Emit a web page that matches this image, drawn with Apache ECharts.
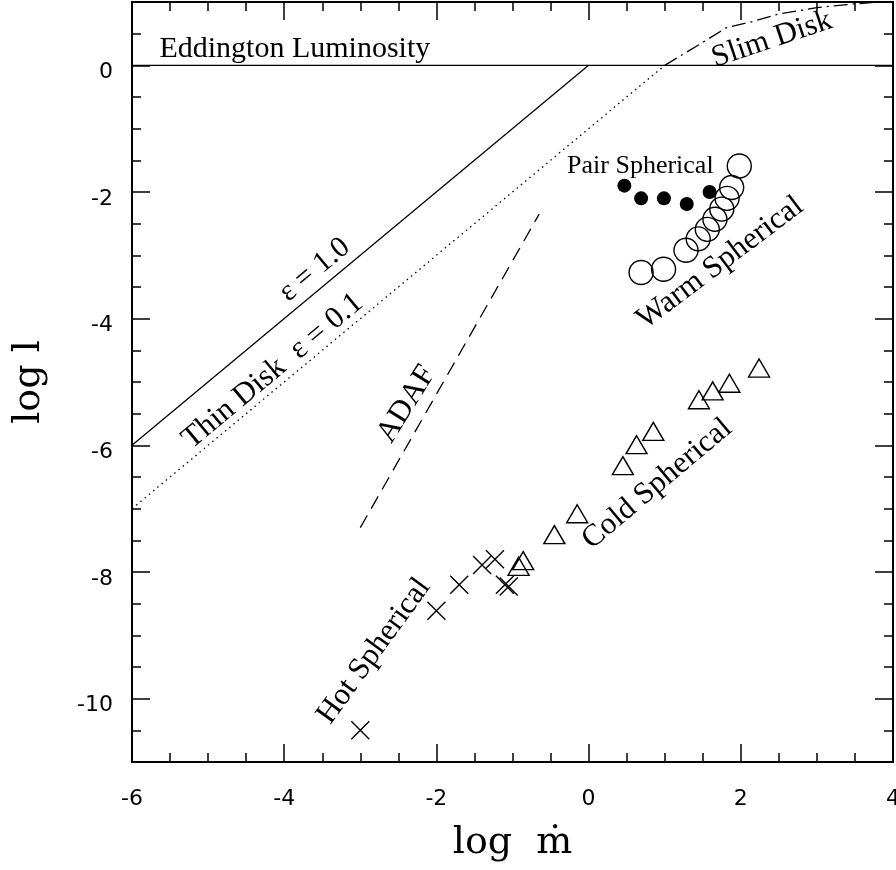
<!DOCTYPE html>
<html>
<head>
<meta charset="utf-8">
<script src="https://cdn.jsdelivr.net/npm/echarts@6/dist/echarts.min.js"></script>
<style>
  html, body { margin: 0; padding: 0; background: #fff; }
  #chart { width: 896px; height: 870px; }
</style>
</head>
<body>
<div id="chart"></div>
<script>
// accretion regimes: log l vs log mdot

const eddingtonLine = [[-6, 0], [4, 0]];
const thinDiskEps10 = [[-6, -6], [0, 0]];
const thinDiskEps01 = [[-6, -7], [1, 0]];
const slimDisk = [[1.0, 0.0], [1.47, 0.34], [1.82, 0.6], [2.12, 0.68], [2.5, 0.81], [3.0, 0.91], [3.4, 0.96], [4.0, 1.02]];
const adafLine = [[-3.0, -7.3], [-0.65, -2.35]];

const pairSpherical = [[0.47, -1.90], [0.69, -2.10], [0.99, -2.10], [1.29, -2.19], [1.59, -2.00]];
const warmSpherical = [[0.69, -3.27], [0.985, -3.22], [1.28, -2.92], [1.44, -2.74], [1.56, -2.59],
                       [1.66, -2.43], [1.75, -2.27], [1.82, -2.10], [1.88, -1.93], [1.98, -1.59]];
const coldSpherical = [[-0.92, -7.91], [-0.86, -7.82], [-0.45, -7.41], [-0.15, -7.08], [0.45, -6.32],
                       [0.63, -5.99], [0.85, -5.78], [1.45, -5.28], [1.63, -5.14], [1.85, -5.02], [2.24, -4.78]];
const hotSpherical = [[-3.0, -10.5], [-2.0, -8.61], [-1.70, -8.20], [-1.40, -7.89], [-1.23, -7.80],
                      [-1.10, -8.20], [-1.05, -8.23]];

const yMajorTicks = [-10, -8, -6, -4, -2, 0];

// annotation text and anchor (data coords)
const annotationText = ['Eddington Luminosity', 'Slim Disk', 'Pair Spherical', 'Warm Spherical',
                        'Cold Spherical', 'Hot Spherical', 'ADAF', 'Thin Disk  ε = 0.1', 'ε = 1.0'];
const annotationX = [-3.86, 2.41, 0.68, 1.73, 0.90, -2.82, -2.39, -4.15, -3.60];
const annotationY = [0.25, 0.41, -1.59, -3.12, -6.61, -9.25, -5.35, -4.83, -3.23];

const labelAngle = [0, 18.5, 0, 37, 40, 54, 58, 39.8, 39.8];
const labelSize = [30, 31, 26, 31, 31, 31, 31, 31, 30];

const chart = echarts.init(document.getElementById('chart'), null, {renderer: 'canvas'});

const serif = '"Liberation Serif", "DejaVu Serif", serif';
const sans = '"DejaVu Sans", Verdana, sans-serif';

function xAxisCfg(pos, showLabel) {
    return {
        type: 'value', position: pos, min: -6, max: 4, interval: 2,
        axisLine: { show: true, onZero: false, lineStyle: { color: '#000', width: 2 } },
        axisTick: { show: true, inside: true, length: 18, lineStyle: { color: '#000', width: 1.5 } },
        minorTick: { show: true, splitNumber: 4, length: 9, lineStyle: { color: '#000', width: 1.5 } },
        axisLabel: { show: showLabel, margin: 26, fontSize: 22, color: '#000', fontFamily: sans },
        splitLine: { show: false },
        name: showLabel ? 'log  ṁ' : '',
        nameLocation: 'middle',
        nameGap: 62,
        nameTextStyle: { fontSize: 38, fontFamily: '"DejaVu Serif", serif', color: '#000' }
    };
}

function yAxisCfg(pos, major, showLabel) {
    const cfg = {
        type: 'value', position: pos, min: -11, max: 1, interval: 0.5,
        axisLine: { show: major, onZero: false, lineStyle: { color: '#000', width: 2 } },
        axisTick: { show: true, inside: true, length: major ? 18 : 9, lineStyle: { color: '#000', width: 1.5 } },
        axisLabel: { show: false },
        splitLine: { show: false }
    };
    if (major) {
        cfg.axisTick.customValues = yMajorTicks;
        cfg.axisLabel = {
            show: showLabel, customValues: yMajorTicks, margin: 19,
            formatter: v => '{t|' + v + '}',
            rich: { t: { fontSize: 22, color: '#000', fontFamily: sans, padding: [14, 0, 0, 0] } }
        };
    }
    if (showLabel) {
        cfg.name = 'log l';
        cfg.nameLocation = 'middle';
        cfg.nameGap = 84;
        cfg.nameTextStyle = { fontSize: 38, fontFamily: '"DejaVu Serif", serif', color: '#000' };
    }
    return cfg;
}

const lineBase = { type: 'line', xAxisIndex: 0, yAxisIndex: 0, symbol: 'none', silent: true, clip: true };

const option = {
    backgroundColor: '#fff',
    animation: false,
    grid: { left: 132, right: 3, top: 2, bottom: 108, outerBoundsMode: 'none', containLabel: false },
    xAxis: [xAxisCfg('bottom', true), xAxisCfg('top', false)],
    yAxis: [yAxisCfg('left', true, true), yAxisCfg('left', false, false),
            yAxisCfg('right', true, false), yAxisCfg('right', false, false)],
    series: [
        Object.assign({}, lineBase, { name: 'Eddington', data: eddingtonLine,
            lineStyle: { color: '#000', width: 1.3 } }),
        Object.assign({}, lineBase, { name: 'eps 1.0', data: thinDiskEps10,
            lineStyle: { color: '#000', width: 1.3 } }),
        Object.assign({}, lineBase, { name: 'eps 0.1', data: thinDiskEps01,
            lineStyle: { color: '#000', width: 1.3, type: [1.5, 4] } }),
        Object.assign({}, lineBase, { name: 'Slim Disk', data: slimDisk,
            lineStyle: { color: '#000', width: 1.3, type: [14, 5, 2, 5] } }),
        Object.assign({}, lineBase, { name: 'ADAF', data: adafLine,
            lineStyle: { color: '#000', width: 1.3, type: [14, 8] } }),
        {
            type: 'scatter', name: 'Warm Spherical', data: warmSpherical, symbol: 'circle', symbolSize: 24,
            itemStyle: { color: 'rgba(0,0,0,0)', borderColor: '#000', borderWidth: 1.4, opacity: 1 }
        },
        {
            type: 'scatter', name: 'Pair Spherical', data: pairSpherical, symbol: 'circle', symbolSize: 14,
            itemStyle: { color: '#000', opacity: 1 }
        },
        {
            type: 'scatter', name: 'Cold Spherical', data: coldSpherical, symbol: 'triangle', symbolSize: [21, 18],
            itemStyle: { color: 'rgba(0,0,0,0)', borderColor: '#000', borderWidth: 1.4, opacity: 1 }
        },
        {
            type: 'scatter', name: 'Hot Spherical', data: hotSpherical,
            symbol: 'path://M0,0L10,10M10,0L0,10', symbolSize: 18,
            itemStyle: { color: 'none', borderColor: '#000', borderWidth: 1.4, opacity: 1 }
        },
        {
            type: 'scatter', name: 'labels', silent: true, symbolSize: 1,
            itemStyle: { color: 'rgba(0,0,0,0)', opacity: 1 },
            label: { show: true, position: 'inside', color: '#000', fontFamily: serif },
            data: annotationText.map((t, i) => ({
                value: [annotationX[i], annotationY[i]],
                label: { formatter: t, rotate: labelAngle[i], fontSize: labelSize[i],
                         align: 'center', verticalAlign: 'middle' }
            }))
        }
    ]
};

chart.setOption(option);
</script>
</body>
</html>
